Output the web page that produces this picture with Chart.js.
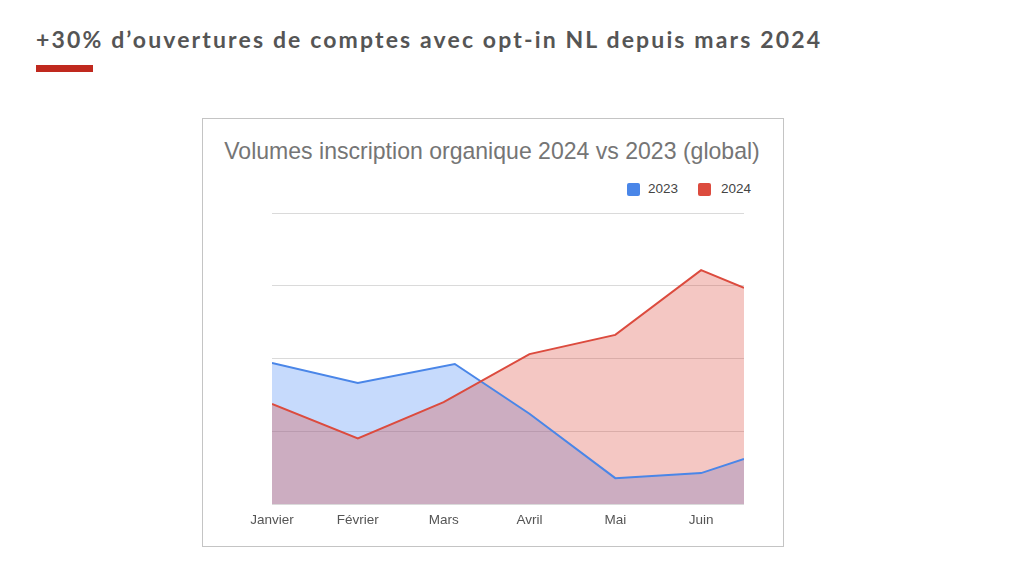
<!DOCTYPE html>
<html>
<head>
<meta charset="utf-8">
<script src="https://cdn.jsdelivr.net/npm/chart.js@4.4.1/dist/chart.umd.min.js"></script>
<style>
  html, body { margin:0; padding:0; background:#fff; }
  body { width:1024px; height:574px; position:relative; overflow:hidden; font-family:"Liberation Sans", Arial, sans-serif; }
  #slideTitle { position:absolute; left:36px; top:26px; font-family:Lato, "Open Sans", sans-serif; font-weight:700; font-size:23px; line-height:27px; color:#555; white-space:nowrap; }
  #redBar { position:absolute; left:36px; top:65px; width:57px; height:7px; background:#c0291e; }
  #box { position:absolute; left:202px; top:118px; width:580px; height:427px; border:1px solid #c4c4c4; }
  #chartTitle { position:absolute; top:140px; left:0; width:1024px; text-align:center; font-size:21px; line-height:22px; color:#757575; white-space:nowrap; }
  .leg { position:absolute; top:181px; font-size:13.5px; line-height:16px; color:#444; }
  .sq { position:absolute; top:183px; width:13px; height:13px; border-radius:2px; }
  #wrap { position:absolute; left:203px; top:119px; width:580px; height:427px; }
</style>
</head>
<body>
<div id="slideTitle">+30% d’ouvertures de comptes avec opt-in NL depuis mars 2024</div>
<div id="redBar"></div>
<div id="box"></div>
<div id="chartTitle">Volumes inscription organique 2024 vs 2023 (global)</div>
<div class="sq" style="left:627px;background:#4a86e8"></div>
<div class="leg" style="left:648px">2023</div>
<div class="sq" style="left:698px;background:#dc4b3e"></div>
<div class="leg" style="left:721px">2024</div>
<div id="wrap"><canvas id="c"></canvas></div>
<script>
// month labels (x index 0..5), axis shown up to 5.5 (cropped)
const months = ["Janvier", "Février", "Mars", "Avril", "Mai", "Juin"];
const xMax = 5.5;
// 2023 series: x positions (month index) and values
const x2023 = [0, 1, 2.13, 3, 4, 5, 5.5];
const v2023 = [1940, 1665, 1925, 1240, 355, 425, 620];
// 2024 series
const x2024 = [0, 1, 2, 3, 4, 5, 5.5];
const v2024 = [1375, 900, 1400, 2060, 2325, 3215, 2970];
const yTicks = [0, 1000, 2000, 3000, 4000];

// fit titles to reference widths
(function(){
  const el = document.getElementById('slideTitle');
  const target = 784;
  const w = el.getBoundingClientRect().width;
  const n = el.textContent.length;
  el.style.letterSpacing = ((target - w) / (n - 1)) + 'px';
  const ct = document.getElementById('chartTitle');
  const s = document.createElement('span'); s.textContent = ct.textContent;
  ct.textContent = ''; ct.appendChild(s);
  const cw = s.getBoundingClientRect().width;
  ct.style.fontSize = (21 * 536 / cw) + 'px';
  ct.style.left = (492 - 512) + 'px';
})();

const toPts = (xs, vs) => xs.map((x, i) => ({x: x, y: vs[i]}));

new Chart(document.getElementById('c'), {
  type: 'line',
  data: {
    datasets: [
      { label: '2023', order: 1, data: toPts(x2023, v2023), borderColor: '#4a86e8', backgroundColor: 'rgba(66,133,244,0.3)', fill: 'origin', borderWidth: 2, pointRadius: 0, tension: 0 },
      { label: '2024', order: 0, data: toPts(x2024, v2024), borderColor: '#dc4b3e', backgroundColor: 'rgba(219,68,55,0.3)', fill: 'origin', borderWidth: 2, pointRadius: 0, tension: 0 }
    ]
  },
  options: {
    responsive: true,
    maintainAspectRatio: false,
    animation: false,
    layout: { padding: { left: 69, right: 39, top: 94, bottom: 0 } },
    plugins: {
      legend: { display: false },
      title: { display: false },
      tooltip: { enabled: false },
      filler: { drawTime: 'beforeDatasetsDraw' }
    },
    scales: {
      x: {
        type: 'linear', min: 0, max: xMax,
        grid: { display: false, drawTicks: false },
        border: { display: false },
        afterFit: s => { s.height = 42; },
        ticks: {
          stepSize: 1, includeBounds: false, autoSkip: false, maxRotation: 0,
          padding: 8, color: '#555', font: { family: '"Liberation Sans", Arial, sans-serif', size: 13.5 },
          callback: v => (Number.isInteger(v) && months[v] !== undefined) ? months[v] : ''
        }
      },
      y: {
        min: yTicks[0], max: yTicks[yTicks.length - 1],
        afterFit: s => { s.width = 0; },
        afterBuildTicks: s => { s.ticks = yTicks.map(v => ({value: v})); },
        grid: { color: '#dadada', lineWidth: 1, drawTicks: false },
        border: { display: false },
        ticks: { display: false }
      }
    }
  }
});
</script>
</body>
</html>
